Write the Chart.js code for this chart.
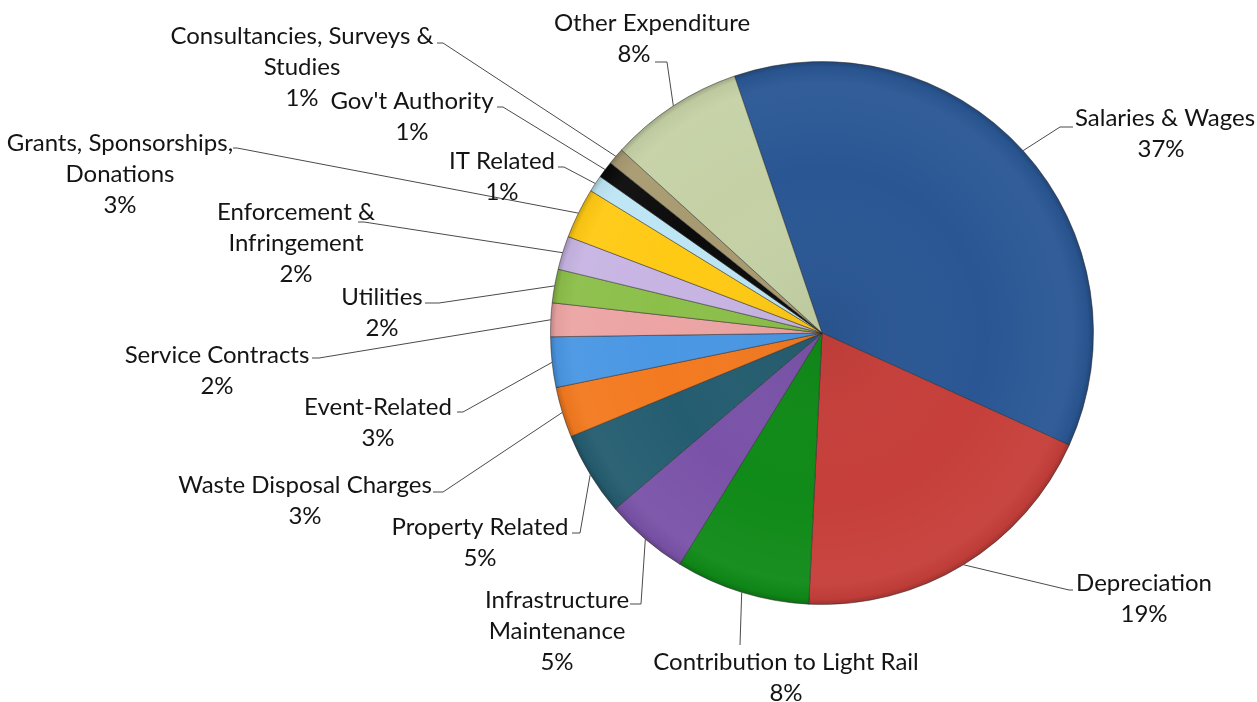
<!DOCTYPE html>
<html>
<head>
<meta charset="utf-8">
<title>Expenditure Breakdown</title>
<script src="https://cdn.jsdelivr.net/npm/chart.js@4.4.1/dist/chart.umd.min.js"></script>
<style>
  html, body { margin: 0; padding: 0; background: #ffffff; }
  #wrap { width: 1257px; height: 702px; }
</style>
</head>
<body>
<div id="wrap"><canvas id="expenseChart" width="1257" height="702"></canvas></div>
<script>
// expenditure categories, clockwise from the top of the pie
const categories = [
  "Salaries & Wages",
  "Depreciation",
  "Contribution to Light Rail",
  ["Infrastructure", "Maintenance"],
  "Property Related",
  "Waste Disposal Charges",
  "Event-Related",
  "Service Contracts",
  "Utilities",
  ["Enforcement &", "Infringement"],
  ["Grants, Sponsorships,", "Donations"],
  "IT Related",
  "Gov't Authority",
  ["Consultancies, Surveys &", "Studies"],
  "Other Expenditure",
];

// share of total expenditure (%)
const shares = [37, 19, 8, 5, 5, 3, 3, 2, 2, 2, 3, 1, 1, 1, 8];

const sliceColors = [
  "#2a5794", "#c63f3a", "#108a18", "#7a53a8", "#255d70",
  "#f37a20", "#4a97e4", "#eca4a4", "#8cbf4a", "#c7b4e3",
  "#ffca14", "#bde5f4", "#0b0b0b", "#a89a70", "#c5d1a5",
];

// label placement: text centre x, first line y, where the leader starts and its short elbow
const labelSpots = [
  { x: 1165, y: 118, tip: [1073, 127], elbow: -13, pctX: 1161 },
  { x: 1144, y: 583, tip: [1073, 590], elbow: -4 },
  { x: 786, y: 662, tip: [740, 645], elbow: 0 },
  { x: 557, y: 600, tip: [630, 604], elbow: 11 },
  { x: 480, y: 527, tip: [572, 533], elbow: 8 },
  { x: 305, y: 485, tip: [433, 492], elbow: 10 },
  { x: 378, y: 407, tip: [457, 412], elbow: 6 },
  { x: 217, y: 355, tip: [312, 358], elbow: 7 },
  { x: 382, y: 297, tip: [425, 303], elbow: 14 },
  { x: 296, y: 212, tip: [358, 222], elbow: 6 },
  { x: 120, y: 143, tip: [233, 148], elbow: 4 },
  { x: 502, y: 161, tip: [558, 167], elbow: 6 },
  { x: 412, y: 101, tip: [497, 107], elbow: 6 },
  { x: 302, y: 36, tip: [437, 43], elbow: 6 },
  { x: 652, y: 23, tip: [655, 62], elbow: 12, pctX: 634 },
];

const LINE_GAP = 31;

// light bevel shading over the whole pie
const pieShading = {
  id: "pieShading",
  afterDatasetsDraw(chart) {
    const arc = chart.getDatasetMeta(0).data[0];
    if (!arc) return;
    const { x, y, outerRadius: r } = arc;
    const ctx = chart.ctx;
    ctx.save();
    ctx.beginPath();
    ctx.arc(x, y, r, 0, Math.PI * 2);
    ctx.clip();
    const g = ctx.createRadialGradient(x, y, 0, x, y, r);
    g.addColorStop(0, "rgba(0,0,0,0.05)");
    g.addColorStop(0.6, "rgba(255,255,255,0)");
    g.addColorStop(0.92, "rgba(255,255,255,0.04)");
    g.addColorStop(0.98, "rgba(0,0,0,0.04)");
    g.addColorStop(1, "rgba(0,0,0,0.2)");
    ctx.fillStyle = g;
    ctx.fillRect(x - r, y - r, r * 2, r * 2);
    ctx.restore();
  },
};

// category + percentage text outside the pie, joined by leader lines
const outsideLabels = {
  id: "outsideLabels",
  afterDraw(chart) {
    const ctx = chart.ctx;
    const arcs = chart.getDatasetMeta(0).data;
    ctx.save();
    ctx.font = "24px Lato";
    ctx.fillStyle = "#141414";
    ctx.textAlign = "center";
    ctx.textBaseline = "middle";
    ctx.strokeStyle = "#4a4a4a";
    ctx.lineWidth = 1;
    arcs.forEach((arc, i) => {
      const spot = labelSpots[i];
      const mid = (arc.startAngle + arc.endAngle) / 2;
      const px = arc.x + Math.cos(mid) * arc.outerRadius;
      const py = arc.y + Math.sin(mid) * arc.outerRadius;
      ctx.beginPath();
      ctx.moveTo(spot.tip[0], spot.tip[1]);
      ctx.lineTo(spot.tip[0] + spot.elbow, spot.tip[1]);
      ctx.lineTo(px, py);
      ctx.stroke();

      const lines = [].concat(categories[i]);
      lines.forEach((t, k) => ctx.fillText(t, spot.x, spot.y + k * LINE_GAP));
      const pctY = spot.y + lines.length * LINE_GAP;
      ctx.fillText(shares[i] + "%", spot.pctX || spot.x, pctY);
    });
    ctx.restore();
  },
};

new Chart(document.getElementById("expenseChart"), {
  type: "pie",
  data: {
    labels: categories,
    datasets: [
      {
        data: shares,
        backgroundColor: sliceColors,
        borderColor: "rgba(40,40,40,0.5)",
        borderWidth: 1,
      },
    ],
  },
  options: {
    responsive: false,
    animation: false,
    rotation: -18.8,
    layout: { padding: { left: 550, right: 163, top: 61, bottom: 97 } },
    plugins: {
      legend: { display: false },
      tooltip: { enabled: false },
    },
  },
  plugins: [pieShading, outsideLabels],
});
</script>
</body>
</html>
